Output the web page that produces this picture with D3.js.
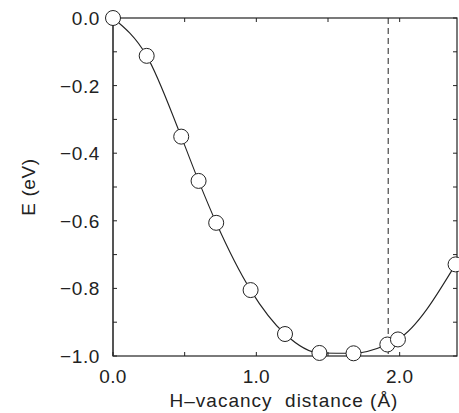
<!DOCTYPE html>
<html>
<head>
<meta charset="utf-8">
<script src="https://cdn.jsdelivr.net/npm/d3@7"></script>
<style>
  body { margin: 0; background: #fff; }
  text { font-family: "Liberation Sans", Arial, sans-serif; fill: #222; }
</style>
</head>
<body>
<svg width="459" height="413"></svg>
<script>
const distance = [0, 0.235, 0.476, 0.597, 0.72, 0.96, 1.2, 1.44, 1.678, 1.914, 1.988, 2.39];
const energy = [0, -0.112, -0.351, -0.482, -0.606, -0.805, -0.935, -0.991, -0.992, -0.966, -0.951, -0.729];
const xTickLabels = [0, 1, 2];
const yTickLabels = [0, -0.2, -0.4, -0.6, -0.8, -1.0];
const dashedAt = 1.92;

const margin = { left: 113, right: 2, top: 18, bottom: 57 };
const svg = d3.select('svg');
const width = +svg.attr('width');
const height = +svg.attr('height');
const innerWidth = width - margin.left - margin.right;
const innerHeight = height - margin.top - margin.bottom;

const g = svg.append('g')
    .attr('transform', `translate(${margin.left},${margin.top})`);

const xScale = d3.scaleLinear().domain([0, 2.4]).range([0, innerWidth]);
const yScale = d3.scaleLinear().domain([-1, 0]).range([innerHeight, 0]);

const fmt = d => d3.format('.1f')(d).replace('-', '\u2212');

// frame
g.append('rect')
    .attr('width', innerWidth)
    .attr('height', innerHeight)
    .attr('fill', 'none')
    .attr('stroke', '#222')
    .attr('stroke-width', 1.2);
g.append('line')
    .attr('y1', 0).attr('y2', innerHeight)
    .attr('stroke', '#555').attr('stroke-width', 2);

// inward ticks
const xTicks = d3.range(0, 2.41, 0.5);
const yTicks = d3.range(-1, 0.01, 0.1);
g.selectAll('.xt').data(xTicks).join('line')
    .attr('x1', d => xScale(d)).attr('x2', d => xScale(d))
    .attr('y1', innerHeight).attr('y2', innerHeight - 4)
    .attr('stroke', '#222');
g.selectAll('.xtt').data(xTicks).join('line')
    .attr('x1', d => xScale(d)).attr('x2', d => xScale(d))
    .attr('y1', 0).attr('y2', 4)
    .attr('stroke', '#222');
g.selectAll('.yt').data(yTicks).join('line')
    .attr('y1', d => yScale(d)).attr('y2', d => yScale(d))
    .attr('x1', 0).attr('x2', 4)
    .attr('stroke', '#222');
g.selectAll('.ytr').data(yTicks).join('line')
    .attr('y1', d => yScale(d)).attr('y2', d => yScale(d))
    .attr('x1', innerWidth).attr('x2', innerWidth - 4)
    .attr('stroke', '#222');

g.selectAll('.xl').data(xTickLabels).join('text')
    .attr('x', d => xScale(d))
    .attr('y', innerHeight + 27)
    .attr('text-anchor', 'middle')
    .style('font-size', '19px')
    .style('letter-spacing', '0.3px')
    .text(fmt);

g.selectAll('.yl').data(yTickLabels).join('text')
    .attr('x', -13)
    .attr('y', d => yScale(d) + 7)
    .attr('text-anchor', 'end')
    .style('font-size', '19px')
    .style('letter-spacing', '0.6px')
    .text(fmt);

// dashed line
g.append('line')
    .attr('x1', xScale(dashedAt)).attr('x2', xScale(dashedAt))
    .attr('y1', 0).attr('y2', innerHeight)
    .attr('stroke', '#222')
    .attr('stroke-dasharray', '6,4');

const data = distance.map((d, i) => ({ x: d, y: energy[i] }));
const line = d3.line()
    .x(d => xScale(d.x))
    .y(d => yScale(d.y))
    .curve(d3.curveMonotoneX);

g.append('path')
    .datum(data)
    .attr('d', line)
    .attr('fill', 'none')
    .attr('stroke', '#222')
    .attr('stroke-width', 1.1);

g.selectAll('circle').data(data)
  .join('circle')
    .attr('cx', d => xScale(d.x))
    .attr('cy', d => yScale(d.y))
    .attr('r', 7.5)
    .attr('fill', '#fff')
    .attr('stroke', '#222')
    .attr('stroke-width', 1);

svg.append('text')
    .attr('x', 284)
    .attr('y', 407)
    .attr('text-anchor', 'middle')
    .style('font-size', '19px')
    .style('letter-spacing', '1px')
    .style('white-space', 'pre')
    .text('H\u2013vacancy  distance (\u00c5)');

svg.append('text')
    .attr('transform', `translate(35,${margin.top + innerHeight / 2}) rotate(-90)`)
    .attr('text-anchor', 'middle')
    .style('font-size', '19px')
    .style('letter-spacing', '0.6px')
    .text('E (eV)');
</script>
</body>
</html>
